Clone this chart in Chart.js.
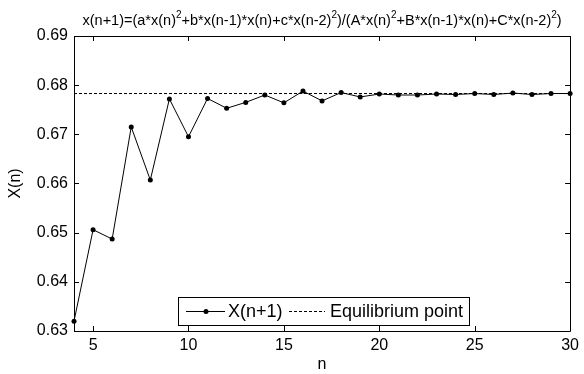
<!DOCTYPE html>
<html>
<head>
<meta charset="utf-8">
<script src="https://cdn.jsdelivr.net/npm/chart.js@4/dist/chart.umd.min.js"></script>
<style>
	html, body { margin: 0; padding: 0; background: #fff; }
	#wrap { width: 584px; height: 374px; }
</style>
</head>
<body>
<div id="wrap"><canvas id="chart"></canvas></div>
<script>
const nValues = [4, 5, 6, 7, 8, 9, 10, 11, 12, 13, 14, 15, 16, 17, 18, 19, 20, 21, 22, 23, 24, 25, 26, 27, 28, 29, 30];
const xValues = [0.6320, 0.6506, 0.6487, 0.6715, 0.6607, 0.6772, 0.6695, 0.6773, 0.6753, 0.6765, 0.6780, 0.6764, 0.6788, 0.6768, 0.6785, 0.6776, 0.6782, 0.6780, 0.6780, 0.6782, 0.6781, 0.6783, 0.6781, 0.6784, 0.6781, 0.6783, 0.6783];
const equilibrium = 0.6783;
const xTicks = [5, 10, 15, 20, 25, 30];
const yTicks = [0.63, 0.64, 0.65, 0.66, 0.67, 0.68, 0.69];
const titleParts = [['x(n+1)=(a*x(n)', 0], ['2', 1], ['+b*x(n-1)*x(n)+c*x(n-2)', 0], ['2', 1], [')/(A*x(n)', 0], ['2', 1], ['+B*x(n-1)*x(n)+C*x(n-2)', 0], ['2', 1], [')', 0]];
const legendLabels = ['X(n+1)', 'Equilibrium point'];

const FONT = 'Arial, "Liberation Sans", sans-serif';

// box, inward ticks, title with superscripts, legend
const matlabAxes = {
	id: 'matlabAxes',
	afterDraw(chart){
		const ctx = chart.ctx;
		const a = chart.chartArea;
		const xs = chart.scales.x, ys = chart.scales.y;
		const tl = 5;
		ctx.save();
		ctx.strokeStyle = '#000';
		ctx.lineWidth = 1;
		ctx.beginPath();
		ctx.rect(Math.round(a.left) + 0.5, Math.round(a.top) + 0.5, Math.round(a.right - a.left), Math.round(a.bottom - a.top));
		xTicks.forEach((v) =>{
			const px = Math.round(xs.getPixelForValue(v)) + 0.5;
			ctx.moveTo(px, a.bottom); ctx.lineTo(px, a.bottom - tl);
			ctx.moveTo(px, a.top); ctx.lineTo(px, a.top + tl);
		});
		yTicks.forEach((v) =>{
			const py = Math.round(ys.getPixelForValue(v)) + 0.5;
			ctx.moveTo(a.left, py); ctx.lineTo(a.left + tl, py);
			ctx.moveTo(a.right, py); ctx.lineTo(a.right - tl, py);
		});
		ctx.stroke();

		// title
		ctx.fillStyle = '#000';
		ctx.textBaseline = 'alphabetic';
		ctx.textAlign = 'left';
		const big = '14.5px ' + FONT, small = '10px ' + FONT;
		let total = 0;
		titleParts.forEach((p) =>{
			ctx.font = p[1] ? small : big;
			total += ctx.measureText(p[0]).width;
		});
		let x = (a.left + a.right) / 2 - total / 2;
		const base = 25;
		titleParts.forEach((p) =>{
			ctx.font = p[1] ? small : big;
			ctx.fillText(p[0], x, p[1] ? base - 7 : base);
			x += ctx.measureText(p[0]).width;
		});

		// legend
		const lx = 178, ly = 297, lw = 291, lh = 28;
		ctx.fillStyle = '#fff';
		ctx.fillRect(lx, ly, lw, lh);
		ctx.strokeStyle = '#000';
		ctx.strokeRect(lx + 0.5, ly + 0.5, lw, lh);
		const cy = ly + lh / 2 + 0.5;
		ctx.beginPath();
		ctx.moveTo(lx + 8, cy); ctx.lineTo(lx + 47, cy);
		ctx.stroke();
		ctx.beginPath();
		ctx.arc(lx + 28, cy, 2.5, 0, Math.PI * 2);
		ctx.fillStyle = '#000';
		ctx.fill();
		ctx.font = '18px ' + FONT;
		ctx.textBaseline = 'middle';
		ctx.fillText(legendLabels[0], lx + 50, cy + 1);
		ctx.setLineDash([3, 2]);
		ctx.beginPath();
		ctx.moveTo(lx + 111, cy); ctx.lineTo(lx + 147, cy);
		ctx.stroke();
		ctx.setLineDash([]);
		ctx.fillText(legendLabels[1], lx + 152, cy + 1);
		ctx.restore();
	}
};

new Chart(document.getElementById('chart'), {
	type: 'line',
	data: {
		datasets: [{
			label: legendLabels[0],
			data: nValues.map((n, i) => ({x: n, y: xValues[i]})),
			borderColor: '#000',
			backgroundColor: '#000',
			borderWidth: 1,
			pointRadius: 2.5,
			pointBorderWidth: 0,
			fill: false,
			tension: 0
		}, {
			label: legendLabels[1],
			data: [{x: nValues[0], y: equilibrium}, {x: nValues[nValues.length - 1], y: equilibrium}],
			borderColor: '#000',
			borderWidth: 1,
			borderDash: [3, 2],
			pointRadius: 0,
			fill: false
		}]
	},
	options: {
		responsive: true,
		maintainAspectRatio: false,
		animation: false,
		clip: false,
		layout: {padding: {top: 36, right: 11, left: 0, bottom: 0}},
		plugins: {legend: {display: false}, title: {display: false}, tooltip: {enabled: false}},
		scales: {
			x: {
				type: 'linear',
				min: 4,
				max: 30,
				afterBuildTicks: (s) =>{ s.ticks = xTicks.map((v) => ({value: v})); },
				afterFit: (s) =>{ s.height = 43; },
				grid: {display: false, drawTicks: false},
				border: {display: false},
				ticks: {color: '#000', font: {family: FONT, size: 16}, padding: 5, maxRotation: 0},
				title: {display: true, text: 'n', color: '#000', font: {family: FONT, size: 16}, padding: {top: 0, bottom: 0}}
			},
			y: {
				min: 0.63,
				max: 0.69,
				afterBuildTicks: (s) =>{ s.ticks = yTicks.map((v) => ({value: v})); },
				afterFit: (s) =>{ s.width = 74; },
				grid: {display: false, drawTicks: false},
				border: {display: false},
				ticks: {color: '#000', font: {family: FONT, size: 16}, padding: 6, callback: (v) => v.toFixed(2)},
				title: {display: true, text: 'X(n)', color: '#000', font: {family: FONT, size: 16}, padding: {top: 6, bottom: 0}}
			}
		}
	},
	plugins: [matlabAxes]
});
</script>
</body>
</html>
